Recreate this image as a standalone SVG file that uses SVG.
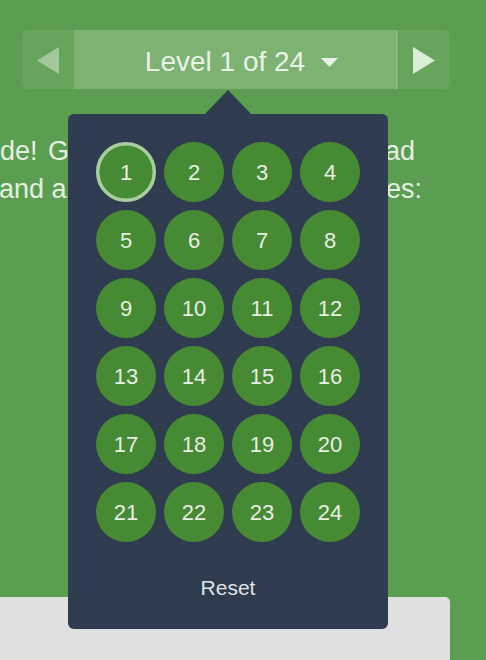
<svg xmlns="http://www.w3.org/2000/svg" width="486" height="660" viewBox="0 0 486 660">
<style>
.bg-text{font-family:"Liberation Sans","DejaVu Sans",sans-serif;font-size:27px;fill:#e4f0e1}
.num{font-family:"Liberation Sans","DejaVu Sans",sans-serif;font-size:22px;fill:#e6efe2;text-anchor:middle}
.lvl{fill:#468a34}
</style>
<rect x="0" y="0" width="486" height="660" fill="#5c9e51"/>
<text class="bg-text" x="0" y="160" word-spacing="3">de! G</text>
<text class="bg-text" x="-1" y="198">and a</text>
<text class="bg-text" x="415" y="160" text-anchor="end">ad</text>
<text class="bg-text" x="422" y="198" text-anchor="end">es:</text>
<path d="M-10 597 H445 A5 5 0 0 1 450 602 V670 H-10 Z" fill="#e0e0e0"/>
<g id="level-bar">
<rect x="22" y="30" width="428" height="59" rx="6" fill="#67a45c"/>
<rect x="74" y="30" width="322" height="59" fill="#7db273"/>
<rect x="396" y="30" width="1.5" height="59" fill="#8fbd85"/>
<polygon points="59,47 59,74 37,60.5" fill="#a3c99b"/>
<polygon points="413,47 413,74 435,60.5" fill="#dcedd8"/>
<text x="225" y="71" font-family="Liberation Sans, DejaVu Sans, sans-serif" font-size="28" fill="#e9f3e6" text-anchor="middle">Level 1 of 24</text>
<polygon points="321,58 338,58 329.5,67" fill="#e9f3e6"/>
</g>
<g id="popup">
<polygon points="204,115 228,90 252,115" fill="#2f3b4e"/>
<rect x="68" y="114" width="320" height="515" rx="6" fill="#2f3b4e"/>
</g>
<g id="levels">
<g id="l1"><circle class="lvl" cx="126" cy="172" r="28.3" stroke="#a6cf9d" stroke-width="3.5"/><text class="num" x="126" y="180">1</text></g>
<g id="l2"><circle class="lvl" cx="194" cy="172" r="30"/><text class="num" x="194" y="180">2</text></g>
<g id="l3"><circle class="lvl" cx="262" cy="172" r="30"/><text class="num" x="262" y="180">3</text></g>
<g id="l4"><circle class="lvl" cx="330" cy="172" r="30"/><text class="num" x="330" y="180">4</text></g>
<g id="l5"><circle class="lvl" cx="126" cy="240" r="30"/><text class="num" x="126" y="248">5</text></g>
<g id="l6"><circle class="lvl" cx="194" cy="240" r="30"/><text class="num" x="194" y="248">6</text></g>
<g id="l7"><circle class="lvl" cx="262" cy="240" r="30"/><text class="num" x="262" y="248">7</text></g>
<g id="l8"><circle class="lvl" cx="330" cy="240" r="30"/><text class="num" x="330" y="248">8</text></g>
<g id="l9"><circle class="lvl" cx="126" cy="308" r="30"/><text class="num" x="126" y="316">9</text></g>
<g id="l10"><circle class="lvl" cx="194" cy="308" r="30"/><text class="num" x="194" y="316">10</text></g>
<g id="l11"><circle class="lvl" cx="262" cy="308" r="30"/><text class="num" x="262" y="316">11</text></g>
<g id="l12"><circle class="lvl" cx="330" cy="308" r="30"/><text class="num" x="330" y="316">12</text></g>
<g id="l13"><circle class="lvl" cx="126" cy="376" r="30"/><text class="num" x="126" y="384">13</text></g>
<g id="l14"><circle class="lvl" cx="194" cy="376" r="30"/><text class="num" x="194" y="384">14</text></g>
<g id="l15"><circle class="lvl" cx="262" cy="376" r="30"/><text class="num" x="262" y="384">15</text></g>
<g id="l16"><circle class="lvl" cx="330" cy="376" r="30"/><text class="num" x="330" y="384">16</text></g>
<g id="l17"><circle class="lvl" cx="126" cy="444" r="30"/><text class="num" x="126" y="452">17</text></g>
<g id="l18"><circle class="lvl" cx="194" cy="444" r="30"/><text class="num" x="194" y="452">18</text></g>
<g id="l19"><circle class="lvl" cx="262" cy="444" r="30"/><text class="num" x="262" y="452">19</text></g>
<g id="l20"><circle class="lvl" cx="330" cy="444" r="30"/><text class="num" x="330" y="452">20</text></g>
<g id="l21"><circle class="lvl" cx="126" cy="512" r="30"/><text class="num" x="126" y="520">21</text></g>
<g id="l22"><circle class="lvl" cx="194" cy="512" r="30"/><text class="num" x="194" y="520">22</text></g>
<g id="l23"><circle class="lvl" cx="262" cy="512" r="30"/><text class="num" x="262" y="520">23</text></g>
<g id="l24"><circle class="lvl" cx="330" cy="512" r="30"/><text class="num" x="330" y="520">24</text></g>
</g>
<g id="reset"><text x="228" y="595" font-family="Liberation Sans, DejaVu Sans, sans-serif" font-size="21" fill="#dfe3e8" text-anchor="middle">Reset</text></g>
<g id="connectors"/>
</svg>
